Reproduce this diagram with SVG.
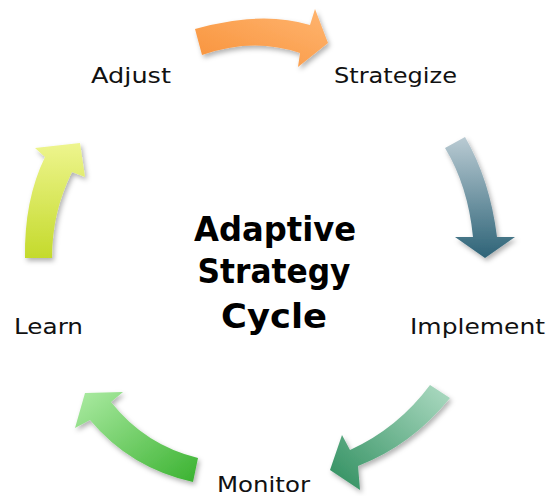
<svg xmlns="http://www.w3.org/2000/svg" width="549" height="496" viewBox="0 0 549 496">
<style>
.lbl{font-family:"DejaVu Sans","Liberation Sans",sans-serif;font-size:22px;fill:#111}
.ttl{font-family:"DejaVu Sans","Liberation Sans",sans-serif;font-size:34px;font-weight:bold;fill:#000;text-anchor:middle}
</style>
<defs>
<filter id="sh" x="-20%" y="-20%" width="140%" height="140%">
<feDropShadow dx="2" dy="3" stdDeviation="2.5" flood-color="#000" flood-opacity="0.3"/>
</filter>
<linearGradient id="gOr" x1="0" y1="1" x2="1" y2="0"><stop offset="0" stop-color="#F8923A"/><stop offset="1" stop-color="#FFB570"/></linearGradient>
<linearGradient id="gBl" x1="0" y1="0" x2="0" y2="1"><stop offset="0" stop-color="#BACBD3"/><stop offset="1" stop-color="#2D6377"/></linearGradient>
<linearGradient id="gTe" x1="1" y1="0" x2="0" y2="1"><stop offset="0" stop-color="#AEDBC3"/><stop offset="1" stop-color="#2E8E5E"/></linearGradient>
<linearGradient id="gGr" x1="0" y1="0" x2="1" y2="1"><stop offset="0" stop-color="#ACEBA3"/><stop offset="1" stop-color="#3AB230"/></linearGradient>
<linearGradient id="gYe" x1="0" y1="0" x2="0" y2="1"><stop offset="0" stop-color="#EEF58E"/><stop offset="1" stop-color="#C4DA2C"/></linearGradient>
</defs>
<g id="connectors" filter="url(#sh)">
<path id="arrow-adjust-strategize" fill="url(#gOr)" d="M195,29 Q262,10 310,25 L315,9 L328,43 L298,67 L300,53 Q253,37 202,55 Z"/>
<path id="arrow-strategize-implement" fill="url(#gBl)" d="M445,148 Q468,186 473,237 L455,237 L485,258 L515,237 L497,237 Q490,180 465,137 Z"/>
<path id="arrow-implement-monitor" fill="url(#gTe)" d="M430,385 Q398,428 350,450 L342,435 L330,470 L360,490 L358,466 Q412,445 450,398 Z"/>
<path id="arrow-monitor-learn" fill="url(#gGr)" d="M198,458 Q145,445 111,402 L123,392 L85,393 L75,428 L90,420 Q130,468 193,482 Z"/>
<path id="arrow-learn-adjust" fill="url(#gYe)" d="M25,258 Q24,200 45,157 L35,148 L80,143 L85,177 L72,172 Q52,212 52,258 Z"/>
</g>
<g id="node-adjust"><text class="lbl" x="91" y="83" textLength="80" lengthAdjust="spacingAndGlyphs">Adjust</text></g>
<g id="node-strategize"><text class="lbl" x="334" y="83" textLength="123" lengthAdjust="spacingAndGlyphs">Strategize</text></g>
<g id="node-implement"><text class="lbl" x="410" y="334" textLength="135" lengthAdjust="spacingAndGlyphs">Implement</text></g>
<g id="node-monitor"><text class="lbl" x="217" y="492" textLength="93" lengthAdjust="spacingAndGlyphs">Monitor</text></g>
<g id="node-learn"><text class="lbl" x="14" y="334" textLength="69" lengthAdjust="spacingAndGlyphs">Learn</text></g>
<g id="title">
<text class="ttl" x="275" y="241" textLength="162" lengthAdjust="spacingAndGlyphs">Adaptive</text>
<text class="ttl" x="274" y="283" textLength="153" lengthAdjust="spacingAndGlyphs">Strategy</text>
<text class="ttl" x="274" y="328" textLength="106" lengthAdjust="spacingAndGlyphs">Cycle</text>
</g>
</svg>
